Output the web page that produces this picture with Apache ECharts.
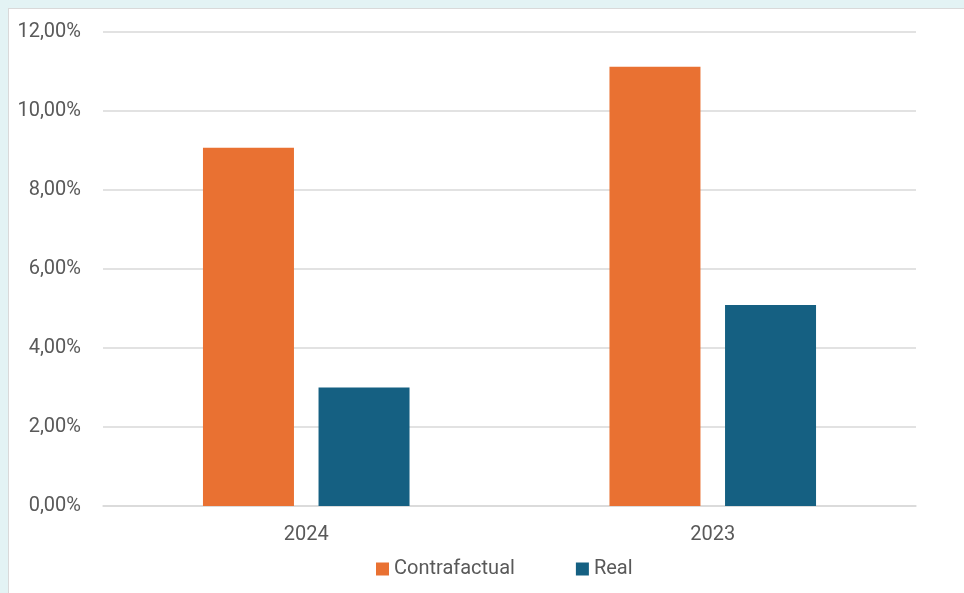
<!DOCTYPE html>
<html>
<head>
<meta charset="utf-8">
<script src="https://cdn.jsdelivr.net/npm/echarts@6/dist/echarts.min.js"></script>
<style>
html,body{margin:0;padding:0;width:964px;height:593px;background:#e3f3f4;overflow:hidden;}
#frame{position:absolute;left:8px;top:8px;width:956px;height:585px;background:#fff;border-left:1px solid #d9d9d9;border-top:1px solid #d9d9d9;box-sizing:border-box;}
#chart{position:absolute;left:0;top:0;width:964px;height:593px;}
</style>
</head>
<body>
<div id="frame"></div>
<div id="chart"></div>
<script>
const categories = ['2024', '2023'];
const contrafactual = [9.07, 11.12];
const real = [3.0, 5.09];
const yTicks = [0, 2, 4, 6, 8, 10, 12];

const chart = echarts.init(document.getElementById('chart'), null, {renderer: 'canvas'});
const font = 'Roboto, "Open Sans", sans-serif';
chart.setOption({
  backgroundColor: 'transparent',
  animation: false,
  grid: {left: 103, right: 48, top: 32, bottom: 87},
  legend: {
    data: ['Contrafactual', 'Real'],
    bottom: 14,
    left: 376,
    icon: 'rect',
    itemWidth: 13,
    itemHeight: 13,
    itemGap: 61,
    itemStyle: {borderWidth: 0},
    textStyle: {color: '#595959', fontSize: 20, fontFamily: font, padding: [0, 0, 0, 0]},
    padding: 0
  },
  xAxis: {
    type: 'category',
    data: categories,
    axisLine: {lineStyle: {color: '#d9d9d9', width: 1.5}},
    axisTick: {show: false},
    axisLabel: {color: '#595959', fontSize: 20, fontFamily: font, margin: 19}
  },
  yAxis: {
    type: 'value',
    min: yTicks[0],
    max: yTicks[yTicks.length - 1],
    interval: 2,
    axisLine: {show: false},
    axisTick: {show: false},
    splitLine: {lineStyle: {color: '#d9d9d9', width: 1.5}},
    axisLabel: {
      color: '#595959', fontSize: 20, fontFamily: font, margin: 22,
      formatter: v => v.toFixed(2).replace('.', ',') + '%'
    }
  },
  series: [
    {name: 'Contrafactual', type: 'bar', data: contrafactual, barWidth: 91, barGap: '27%', itemStyle: {color: '#e97132'}},
    {name: 'Real', type: 'bar', data: real, barWidth: 91, barGap: '27%', itemStyle: {color: '#156082'}}
  ]
});
</script>
</body>
</html>
